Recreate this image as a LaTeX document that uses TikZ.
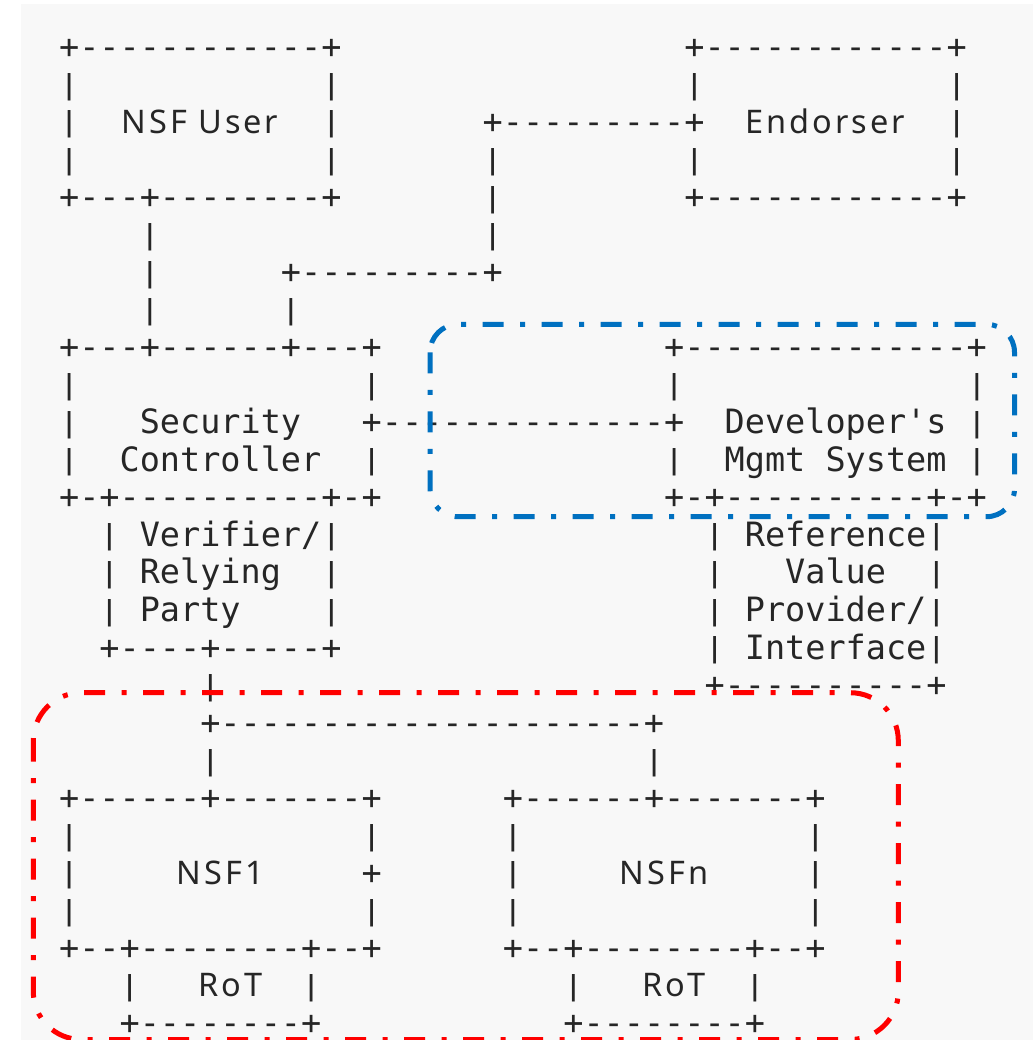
\documentclass[tikz,border=0pt]{standalone}
\usepackage{fontspec}
\setmonofont{DejaVu Sans Mono}
\newfontfamily\boxfont{Noto Sans}[LetterSpace=9]
\definecolor{pagegray}{RGB}{248,248,248}
\definecolor{groupblue}{RGB}{0,112,192}
\definecolor{groupred}{RGB}{255,0,0}
\newcommand\asbar{\raisebox{1.5pt}{\scalebox{1}[0.82]{|}}}
\tikzset{
  asc/.style={font=\ttfamily\fontsize{33.5}{40}\selectfont, text=black!85,
    inner sep=0pt, anchor=base west, xshift=-10.085pt, yshift=-11.7pt},
  lbl/.style={font=\boxfont\fontsize{32.5}{40}\selectfont, text=black!85,
    inner sep=0pt, anchor=base, yshift=-11.7pt},
  group/.style={line width=5pt, rounded corners=#1,
    dash pattern=on 21pt off 16.5pt on 5pt off 16.5pt}
}

\begin{document}
\begin{tikzpicture}[x=1pt, y=-1pt]
  \useasboundingbox (0,0) rectangle (1033,1040);
  \fill[pagegray] (21,4) rectangle (1033,1040);

  \begin{scope}[shift={(69,46.7)}, x=20.17pt, y=-37.54pt]
    \node[asc] (userTop) at (0,0) {+------------+};
    \node[asc] (endTop) at (31,0) {+------------+};
    \node[lbl] (userName) at (6.5,2) {NSF User};
    \node[asc] (endLink) at (21,2) {+---------+};
    \node[lbl] (endName) at (37.5,2) {Endorser};
    \node[asc] (userBot) at (0,4) {+---+--------+};
    \node[asc] (endBot) at (31,4) {+------------+};
    \node[asc] (ctlLink) at (11,6) {+---------+};

    \node[asc] (secTop) at (0,8) {+---+------+---+};
    \node[asc] (devTop) at (30,8) {+--------------+};
    \node[asc] (secLabel) at (4,10) {Security};
    \node[asc] (devLink) at (15,10) {+--------------+};
    \node[asc] (devLabel) at (33,10) {Developer's};
    \node[asc] (ctlLabel) at (3,11) {Controller};
    \node[asc] (mgmtLabel) at (33,11) {Mgmt System};
    \node[asc] (secBot) at (0,12) {+-+----------+-+};
    \node[asc] (devBot) at (30,12) {+-+----------+-+};

    \node[asc] (verifier) at (2,13) {\asbar{} Verifier/\asbar};
    \node[asc] (reference) at (32,13) {\asbar{} Reference\asbar};
    \node[asc] (relying) at (2,14) {\asbar{} Relying};
    \node[asc] (value) at (36,14) {Value};
    \node[asc] (party) at (2,15) {\asbar{} Party};
    \node[asc] (provider) at (32,15) {\asbar{} Provider/\asbar};
    \node[asc] (verBot) at (2,16) {+----+-----+};
    \node[asc] (interface) at (32,16) {\asbar{} Interface\asbar};
    \node[asc] (refBot) at (32,17) {+----------+};

    \node[asc] (nsfLink) at (7,18) {+---------------------+};
    \node[asc] (nsfoneTop) at (0,20) {+------+-------+};
    \node[asc] (nsfnTop) at (22,20) {+------+-------+};
    \node[lbl] (nsfoneName) at (7.5,22) {NSF1};
    \node[asc] (nsfonePlus) at (15,22) {+};
    \node[lbl] (nsfnName) at (29.5,22) {NSFn};
    \node[asc] (nsfoneBot) at (0,24) {+--+--------+--+};
    \node[asc] (nsfnBot) at (22,24) {+--+--------+--+};
    \node[lbl] (rotoneName) at (8,25) {RoT};
    \node[lbl] (rotnName) at (30,25) {RoT};
    \node[asc] (rotoneBot) at (3,26) {+--------+};
    \node[asc] (rotnBot) at (25,26) {+--------+};

    % box sides and vertical links
    \foreach \c/\r in {0/1,13/1,31/1,44/1, 0/2,13/2,44/2,
        0/3,13/3,21/3,31/3,44/3, 21/4, 4/5,21/5, 4/6, 4/7,11/7,
        0/9,15/9,30/9,45/9, 0/10,45/10, 0/11,15/11,30/11,45/11,
        13/14,32/14,43/14, 13/15, 7/17, 7/19,29/19,
        0/21,15/21,22/21,37/21, 0/22,22/22,37/22,
        0/23,15/23,22/23,37/23, 3/25,12/25,25/25,34/25}
      \node[asc] (bar-\c-\r) at (\c,\r) {\asbar};
  \end{scope}

  \draw[groupblue, group=28pt] (430,324.3) rectangle (1014.5,516.7);
  \draw[groupred, group=48pt] (33.3,692.7) rectangle (898.3,1039.5);
\end{tikzpicture}
\end{document}
